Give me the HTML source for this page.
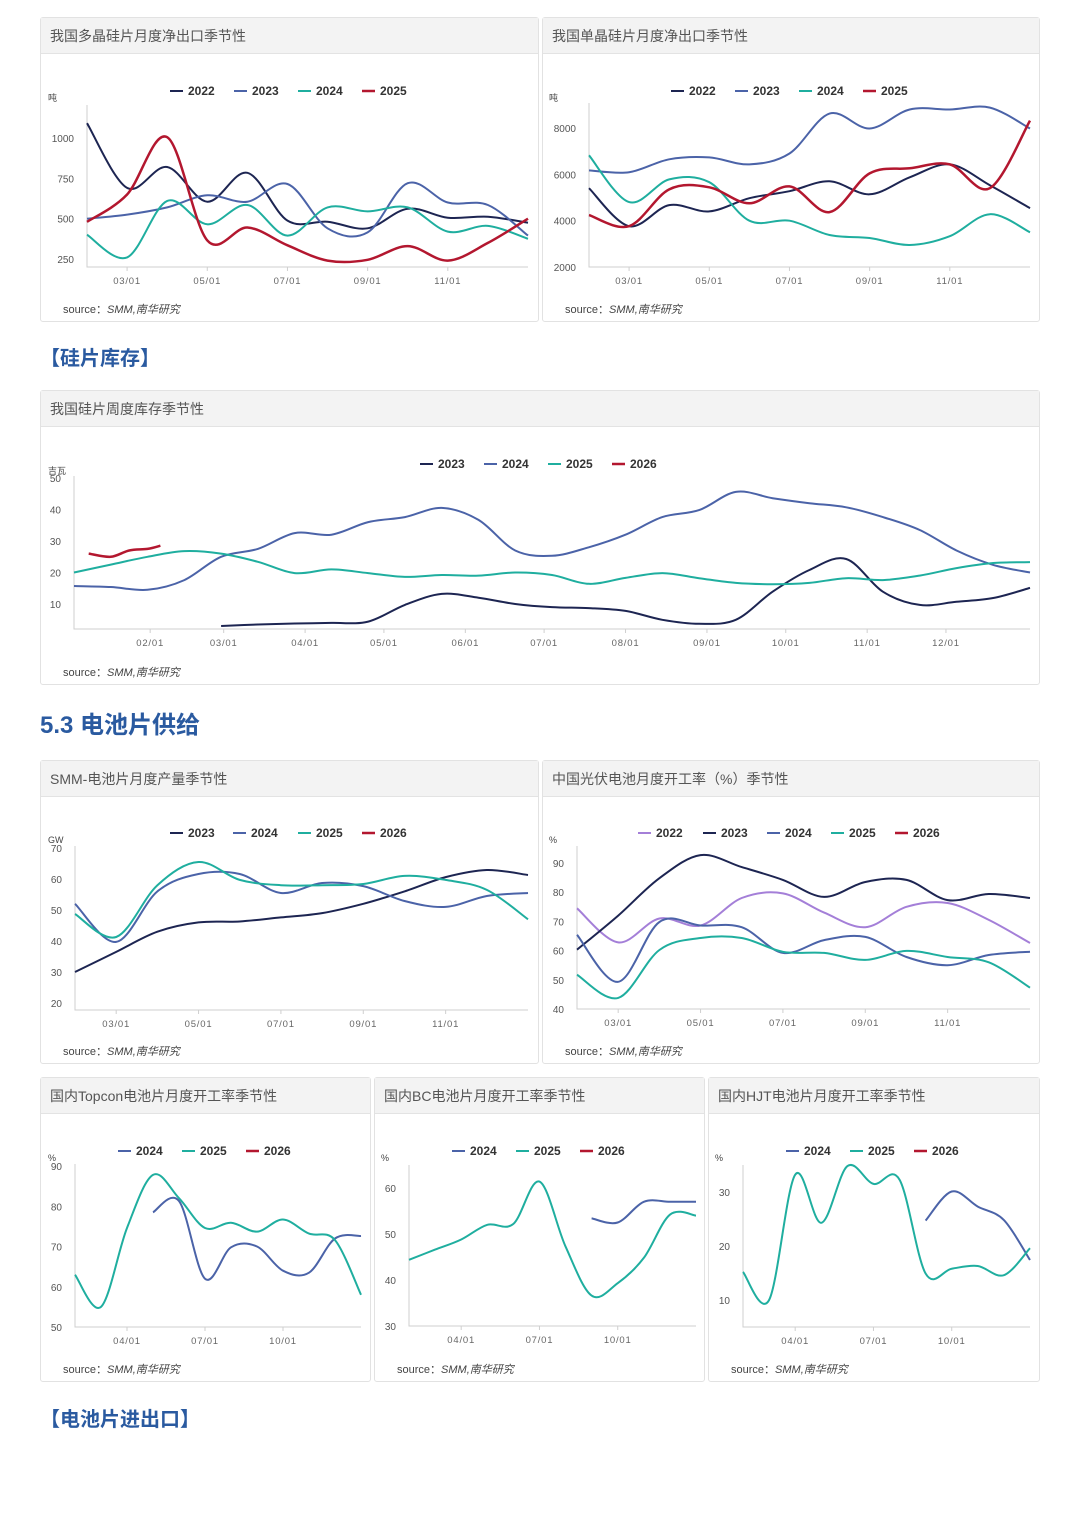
<!DOCTYPE html>
<html><head><meta charset="utf-8">
<style>
body{margin:0;background:#fff;width:1080px;height:1513px;position:relative;overflow:hidden;font-family:"Liberation Sans","Noto Sans CJK SC",sans-serif;}
.panel{position:absolute;border:1px solid #e2e2e2;border-radius:3px;background:#fff;box-sizing:border-box;}
.ph{height:35px;background:#f3f3f3;border-bottom:1px solid #e3e3e3;font-size:14px;color:#555;line-height:36px;padding-left:9px;}
.src{position:absolute;left:22px;bottom:4px;font-size:11px;color:#444;}
.src i{font-style:italic;}
.sec{position:absolute;left:40px;color:#2a5aa0;font-weight:bold;}
svg{position:absolute;left:0;top:0;}
</style></head><body>
<div class="panel" style="left:40px;top:17px;width:499px;height:305px"><div class="ph">我国多晶硅片月度净出口季节性</div><div class="src">source：<i>SMM,南华研究</i></div></div>
<div class="panel" style="left:542px;top:17px;width:498px;height:305px"><div class="ph">我国单晶硅片月度净出口季节性</div><div class="src">source：<i>SMM,南华研究</i></div></div>
<div class="sec" style="top:342px;font-size:20px">【硅片库存】</div>
<div class="panel" style="left:40px;top:390px;width:1000px;height:295px"><div class="ph">我国硅片周度库存季节性</div><div class="src">source：<i>SMM,南华研究</i></div></div>
<div class="sec" style="top:705px;font-size:24px">5.3 电池片供给</div>
<div class="panel" style="left:40px;top:760px;width:499px;height:304px"><div class="ph">SMM-电池片月度产量季节性</div><div class="src">source：<i>SMM,南华研究</i></div></div>
<div class="panel" style="left:542px;top:760px;width:498px;height:304px"><div class="ph">中国光伏电池月度开工率（%）季节性</div><div class="src">source：<i>SMM,南华研究</i></div></div>
<div class="panel" style="left:40px;top:1077px;width:331px;height:305px"><div class="ph">国内Topcon电池片月度开工率季节性</div><div class="src">source：<i>SMM,南华研究</i></div></div>
<div class="panel" style="left:374px;top:1077px;width:331px;height:305px"><div class="ph">国内BC电池片月度开工率季节性</div><div class="src">source：<i>SMM,南华研究</i></div></div>
<div class="panel" style="left:708px;top:1077px;width:332px;height:305px"><div class="ph">国内HJT电池片月度开工率季节性</div><div class="src">source：<i>SMM,南华研究</i></div></div>
<div class="sec" style="top:1403px;font-size:20px">【电池片进出口】</div>
<svg id="s" width="1080" height="1513"></svg>
<script>
// ---- data ----
const months = [0,1,2,3,4,5,6,7,8,9,10,11];
const c1Ticks = ["03/01","05/01","07/01","09/01","11/01"];
const c1Y = [250,500,750,1000];
const c1_2022 = [1092,691,820,605,784,488,481,440,562,506,512,475];
const c1_2023 = [500,525,570,645,605,715,440,415,720,600,585,395];
const c1_2024 = [400,260,610,465,585,395,570,545,570,420,455,375];
const c1_2025 = [480,650,1005,365,445,335,240,245,330,240,350,500];
const c2Y = [2000,4000,6000,8000];
const c2_2022 = [5400,3760,4670,4400,4970,5270,5700,5140,5870,6430,5530,4540];
const c2_2023 = [6170,6090,6650,6730,6430,6900,8620,7980,8800,8800,8880,7980];
const c2_2024 = [6820,4800,5780,5660,4000,4000,3380,3250,2950,3330,4280,3500];
const c2_2025 = [4240,3760,5350,5440,4750,5480,4370,6040,6260,6430,5400,8320];
const c3Ticks = ["02/01","03/01","04/01","05/01","06/01","07/01","08/01","09/01","10/01","11/01","12/01"];
const c3TickDoy = [31,59,90,120,151,181,212,243,273,304,334];
const c3Y = [10,20,30,40,50];
const c3Weeks = [0,2,4,6,8,10,12,14,16,18,20,22,24,26,28,30,32,34,36,38,40,42,44,46,48,50,52];
const c3_2023 = [null,null,null,null,3,3.5,3.8,4,4.4,9.7,13.2,12,10,9,8.7,7.8,5,3.7,5,13.9,20.8,24.3,13.9,9.7,10.7,11.9,15.1];
const c3_2024 = [15.7,15.4,14.5,17.6,25,27.5,32.5,32,36,37.6,40.5,36.7,27,25.3,28,32,37.6,39.8,45.6,43.6,42,40.7,37.6,33.5,27,22.4,20];
const c3_2025 = [20,22.5,25,26.8,26,23.4,19.8,21,19.8,18.6,19.2,19,20,19.2,16.4,18.3,19.8,18.2,16.7,16.3,16.7,18.2,17.6,19,21.4,23,23.3];
const c3Weeks26 = [0.8,2,3,4,4.7];
const c3_2026 = [26,25,27,27.5,28.5];
const c4Y = [20,30,40,50,60,70];
const c4_2023 = [30,36.5,43,46,46.3,47.6,49,52,56,60.6,62.9,61.3];
const c4_2024 = [52,39.7,56,61.6,61.6,55.5,58.7,57.7,52.9,51,54.5,55.5];
const c4_2025 = [48.7,41.3,58,65.5,59.7,58,58,58.4,61,59.7,56.5,47];
const c5Y = [40,50,60,70,80,90];
const c5_2022 = [74.5,62.8,71,68.6,78,79.6,73,68,75,76.3,70.5,62.6];
const c5_2023 = [60.3,72,84.8,92.7,88.6,84.2,78.4,83.5,84.2,77.3,79.4,78];
const c5_2024 = [65.4,49.3,69.8,68.6,68,59.2,63.6,64.7,57.8,55,58.5,59.6];
const c5_2025 = [51.7,43.8,60.2,64.3,64.3,59.6,59.2,56.8,59.9,57.8,56,47.3];
const qTicks = ["04/01","07/01","10/01"];
const c6Y = [50,60,70,80,90];
const c6_2024 = [null,null,null,78.5,81.3,62,69.8,70,64,63.5,72,72.6];
const c6_2025 = [63,55,74.6,87.8,82,74.6,75.9,73.7,76.7,73.2,71.6,58];
const c7Y = [30,40,50,60];
const c7_2024 = [null,null,null,null,null,null,null,53.4,52.5,57,57,57];
const c7_2025 = [44.4,46.6,48.8,52,52.2,61.4,47.3,36.6,39.3,44.8,54.2,54];
const c8Y = [10,20,30];
const c8_2024 = [null,null,null,null,null,null,null,24.7,30.1,27.3,24.8,17.4];
const c8_2025 = [15.2,10,33.2,24.3,34.8,31.5,32.3,14.9,15.8,16.3,14.6,19.6];

const COL={p:"#a47fd8",n:"#1d2552",b:"#4b63a8",t:"#1fae9f",r:"#b3172f"};
const S=document.getElementById('s');
const NS="http://www.w3.org/2000/svg";
function mk(tag,at,parent){const e=document.createElementNS(NS,tag);for(const k in at)e.setAttribute(k,at[k]);(parent||S).appendChild(e);return e;}
function txt(x,y,s,anchor,size,fill,weight,parent){const t=mk('text',{x:x,y:y,'text-anchor':anchor,'font-size':size,fill:fill,'font-weight':weight||'normal','font-family':'"Liberation Sans","Noto Sans CJK SC",sans-serif'},parent);t.textContent=s;return t;}
function path(pts){let segs=[],cur=[];pts.forEach(p=>{if(p)cur.push(p);else{if(cur.length)segs.push(cur);cur=[];}});if(cur.length)segs.push(cur);
 let d="";segs.forEach(s=>{d+="M"+s[0][0].toFixed(1)+","+s[0][1].toFixed(1);for(let i=0;i<s.length-1;i++){const p0=s[i-1]||s[i],p1=s[i],p2=s[i+1],p3=s[i+2]||p2;
 d+="C"+(p1[0]+(p2[0]-p0[0])/6).toFixed(1)+","+(p1[1]+(p2[1]-p0[1])/6).toFixed(1)+" "+(p2[0]-(p3[0]-p1[0])/6).toFixed(1)+","+(p2[1]-(p3[1]-p1[1])/6).toFixed(1)+" "+p2[0].toFixed(1)+","+p2[1].toFixed(1);}});return d;}
function chart(name,c){
 const g=mk('g',{});
 
 
 const ys=v=>c.y0p+(v-c.y0)*(c.y1p-c.y0p)/(c.y1-c.y0);
 const xs=v=>c.x0p+(v-c.x0)*(c.x1p-c.x0p)/(c.x1-c.x0);
 const ax=mk('path',{d:`M${c.x0p},${c.top}V${c.axY}H${c.x1p}`,stroke:'#cfcfcf','stroke-width':1,fill:'none'},g);
 
 
 c.yt.forEach(v=>{const t=txt(c.x0p-13,ys(v)+4,String(v),'end',10,'#555','normal',g);
  
  });
 c.xt.forEach((lab,i)=>{const x=xs(c.xtv[i]);mk('line',{x1:x,x2:x,y1:c.axY,y2:c.axY+4,stroke:'#cfcfcf'},g);
  const t=txt(x,c.axY+17,lab,'middle',9.5,'#666','normal',g);t.setAttribute('letter-spacing','0.8');
  
  });
 const u=txt(c.unit[1],c.unit[2],c.unit[0],'start',9,'#444','normal',g);
 
 
 c.leg.forEach(l=>{const ln=mk('line',{x1:l[1],x2:l[1]+13,y1:c.legY-4,y2:c.legY-4,stroke:COL[l[2]],'stroke-width':l[0]===c.redLast?2.5:2},g);
  
  
  const t=txt(l[1]+18,c.legY,l[0],'start',12,'#333','bold',g);
  
  });
 c.series.forEach(s=>{const pts=s.v.map((v,i)=>v==null?null:[xs(s.x[i]),ys(v)]);
  const p=mk('path',{d:path(pts),stroke:COL[s.c],'stroke-width':s.w||2,fill:'none','stroke-linejoin':'round'},g);
  
  });
}
const M=months;
chart('poly-wafer-export-chart',{x0:0,x1:11,x0p:87,x1p:528,y0:250,y1:1000,y0p:259,y1p:138,top:105,axY:267,yt:c1Y,xt:c1Ticks,xtv:[1,3,5,7,9],unit:['吨',48,101],legY:95,redLast:'2025',
 leg:[['2022',170,'n'],['2023',234,'b'],['2024',298,'t'],['2025',362,'r']],
 series:[{n:'2022',x:M,v:c1_2022,c:'n'},{n:'2023',x:M,v:c1_2023,c:'b'},{n:'2024',x:M,v:c1_2024,c:'t'},{n:'2025',x:M,v:c1_2025,c:'r',w:2.5}]});
chart('mono-wafer-export-chart',{x0:0,x1:11,x0p:589,x1p:1030,y0:2000,y1:8000,y0p:267,y1p:128,top:103,axY:267,yt:c2Y,xt:c1Ticks,xtv:[1,3,5,7,9],unit:['吨',549,101],legY:95,redLast:'2025',
 leg:[['2022',671,'n'],['2023',735,'b'],['2024',799,'t'],['2025',863,'r']],
 series:[{n:'2022',x:M,v:c2_2022,c:'n'},{n:'2023',x:M,v:c2_2023,c:'b'},{n:'2024',x:M,v:c2_2024,c:'t'},{n:'2025',x:M,v:c2_2025,c:'r',w:2.5}]});
chart('wafer-inventory-chart',{x0:0,x1:52,x0p:74,x1p:1030,y0:0,y1:50,y0p:635.5,y1p:478,top:476,axY:629,yt:c3Y,xt:c3Ticks,xtv:c3TickDoy.map(d=>(d-2)/7),unit:['吉瓦',48,474],legY:468,redLast:'2026',
 leg:[['2023',420,'n'],['2024',484,'b'],['2025',548,'t'],['2026',612,'r']],
 series:[{n:'2023',x:c3Weeks,v:c3_2023,c:'n'},{n:'2024',x:c3Weeks,v:c3_2024,c:'b'},{n:'2025',x:c3Weeks,v:c3_2025,c:'t'},{n:'2026',x:c3Weeks26,v:c3_2026,c:'r',w:2.5}]});
chart('cell-output-chart',{x0:0,x1:11,x0p:75,x1p:528,y0:20,y1:70,y0p:1003,y1p:848,top:846,axY:1010,yt:c4Y,xt:c1Ticks,xtv:[1,3,5,7,9],unit:['GW',48,843],legY:837,redLast:'2026',
 leg:[['2023',170,'n'],['2024',233,'b'],['2025',298,'t'],['2026',362,'r']],
 series:[{n:'2023',x:M,v:c4_2023,c:'n'},{n:'2024',x:M,v:c4_2024,c:'b'},{n:'2025',x:M,v:c4_2025,c:'t'}]});
chart('cell-utilization-chart',{x0:0,x1:11,x0p:577,x1p:1030,y0:40,y1:90,y0p:1009,y1p:863,top:846,axY:1009,yt:c5Y,xt:c1Ticks,xtv:[1,3,5,7,9],unit:['%',549,843],legY:837,redLast:'2026',
 leg:[['2022',638,'p'],['2023',703,'n'],['2024',767,'b'],['2025',831,'t'],['2026',895,'r']],
 series:[{n:'2022',x:M,v:c5_2022,c:'p'},{n:'2023',x:M,v:c5_2023,c:'n'},{n:'2024',x:M,v:c5_2024,c:'b'},{n:'2025',x:M,v:c5_2025,c:'t'}]});
chart('topcon-chart',{x0:0,x1:11,x0p:75,x1p:361,y0:50,y1:90,y0p:1327,y1p:1166,top:1164,axY:1327,yt:c6Y,xt:qTicks,xtv:[2,5,8],unit:['%',48,1161],legY:1155,redLast:'2026',
 leg:[['2024',118,'b'],['2025',182,'t'],['2026',246,'r']],
 series:[{n:'2024',x:M,v:c6_2024,c:'b'},{n:'2025',x:M,v:c6_2025,c:'t'}]});
chart('bc-chart',{x0:0,x1:11,x0p:409,x1p:696,y0:30,y1:60,y0p:1326,y1p:1188,top:1165,axY:1326,yt:c7Y,xt:qTicks,xtv:[2,5,8],unit:['%',381,1161],legY:1155,redLast:'2026',
 leg:[['2024',452,'b'],['2025',516,'t'],['2026',580,'r']],
 series:[{n:'2024',x:M,v:c7_2024,c:'b'},{n:'2025',x:M,v:c7_2025,c:'t'}]});
chart('hjt-chart',{x0:0,x1:11,x0p:743,x1p:1030,y0:10,y1:30,y0p:1300,y1p:1192,top:1165,axY:1327,yt:c8Y,xt:qTicks,xtv:[2,5,8],unit:['%',715,1161],legY:1155,redLast:'2026',
 leg:[['2024',786,'b'],['2025',850,'t'],['2026',914,'r']],
 series:[{n:'2024',x:M,v:c8_2024,c:'b'},{n:'2025',x:M,v:c8_2025,c:'t'}]});
</script>
</body></html>
